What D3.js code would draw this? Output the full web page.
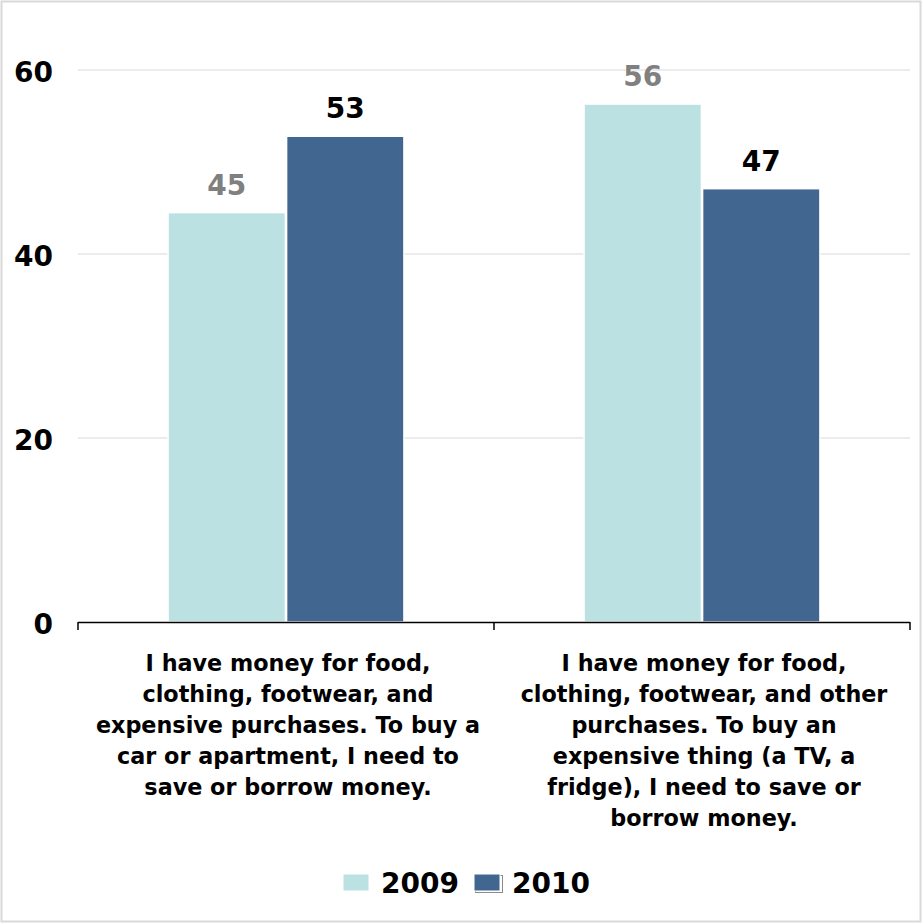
<!DOCTYPE html>
<html>
<head>
<meta charset="utf-8">
<script src="https://cdn.jsdelivr.net/npm/d3@7"></script>
<style>
  body { margin: 0; background: #fff; }
  text { font-family: "DejaVu Sans", Verdana, sans-serif; font-weight: bold; }
</style>
</head>
<body>
<script>
// chart data
var categories = [
  ["I have money for food,", "clothing, footwear, and", "expensive purchases. To buy a", "car or apartment, I need to", "save or borrow money."],
  ["I have money for food,", "clothing, footwear, and other", "purchases. To buy an", "expensive thing (a TV, a", "fridge), I need to save or", "borrow money."]
];
var seriesNames = ["2009", "2010"];
var values2009 = [44.5, 56.3];
var values2010 = [52.8, 47.1];
var yTicks = [0, 20, 40, 60];

var colors = { "2009": "#bce1e3", "2010": "#41668f" };
var labelColors = { "2009": "#808080", "2010": "#000000" };

var width = 922, height = 923;
var plotLeft = 78, plotRight = 910, plotTop = 70, plotBottom = 622;

var svg = d3.select("body").append("svg")
  .attr("width", width)
  .attr("height", height);

// outer frame
svg.append("rect")
  .attr("x", 1.5).attr("y", 1.5)
  .attr("width", width - 3).attr("height", height - 3)
  .attr("fill", "none")
  .attr("stroke", "#d9d9d9")
  .attr("stroke-width", 2);

var x0 = d3.scaleBand().domain(d3.range(categories.length)).range([plotLeft, plotRight]);
var x1 = d3.scaleBand().domain(seriesNames).range([0, x0.bandwidth()]).paddingOuter(0.76).paddingInner(0.01);
var y = d3.scaleLinear().domain([0, 60]).range([plotBottom, plotTop]);

// gridlines
svg.append("g").selectAll("line")
  .data(yTicks.filter(function(d) { return d > 0; }))
  .enter().append("line")
  .attr("x1", plotLeft).attr("x2", plotRight)
  .attr("y1", function(d) { return y(d); })
  .attr("y2", function(d) { return y(d); })
  .attr("stroke", "#d9d9d9")
  .attr("stroke-width", 1);

// y tick labels
svg.append("g").selectAll("text")
  .data(yTicks)
  .enter().append("text")
  .attr("x", 53)
  .attr("y", function(d) { return y(d) + 12; })
  .attr("text-anchor", "end")
  .attr("font-size", 28)
  .text(function(d) { return d; });

var rows = [];
categories.forEach(function(c, i) {
  rows.push({ cat: i, series: "2009", value: values2009[i] });
  rows.push({ cat: i, series: "2010", value: values2010[i] });
});

// bars
svg.append("g").selectAll("rect")
  .data(rows)
  .enter().append("rect")
  .attr("x", function(d) { return x0(d.cat) + x1(d.series); })
  .attr("y", function(d) { return y(d.value); })
  .attr("width", x1.bandwidth())
  .attr("height", function(d) { return plotBottom - y(d.value); })
  .attr("fill", function(d) { return colors[d.series]; })
  .attr("stroke", "#fff")
  .attr("stroke-width", 1.5);

// value labels
svg.append("g").selectAll("text")
  .data(rows)
  .enter().append("text")
  .attr("x", function(d) { return x0(d.cat) + x1(d.series) + x1.bandwidth() / 2; })
  .attr("y", function(d) { return y(d.value) - 18; })
  .attr("text-anchor", "middle")
  .attr("font-size", 28)
  .attr("fill", function(d) { return labelColors[d.series]; })
  .text(function(d) { return Math.round(d.value); });

// x axis
var axis = svg.append("g");
axis.append("line")
  .attr("x1", plotLeft).attr("x2", plotRight)
  .attr("y1", plotBottom + 0.5).attr("y2", plotBottom + 0.5)
  .attr("stroke", "#000").attr("stroke-width", 1.5);
axis.selectAll("line.tick")
  .data([plotLeft, x0(1), plotRight])
  .enter().append("line")
  .attr("class", "tick")
  .attr("x1", function(d) { return d; }).attr("x2", function(d) { return d; })
  .attr("y1", plotBottom).attr("y2", plotBottom + 8)
  .attr("stroke", "#000").attr("stroke-width", 1.5);

// category labels
categories.forEach(function(lines, i) {
  var t = svg.append("text")
    .attr("text-anchor", "middle")
    .attr("font-size", 22.3)
    .attr("y", 671);
  lines.forEach(function(s, j) {
    t.append("tspan")
      .attr("x", x0(i) + x0.bandwidth() / 2 + 2)
      .attr("dy", j === 0 ? 0 : 31)
      .text(s);
  });
});

// legend
var legend = svg.append("g").attr("transform", "translate(343,872)");
seriesNames.forEach(function(s, i) {
  var g = legend.append("g").attr("transform", "translate(" + (i * 131) + ",0)");
  if (s === "2010") {
    g.append("rect")
      .attr("x", 1.5).attr("y", 3.5)
      .attr("width", 27).attr("height", 17)
      .attr("fill", "none")
      .attr("stroke", "#8a8a8a").attr("stroke-width", 1);
  }
  g.append("rect")
    .attr("x", 0).attr("y", 2)
    .attr("width", 26).attr("height", 17)
    .attr("fill", colors[s])
    .attr("stroke", "#fff");
  g.append("text")
    .attr("x", 38).attr("y", 21)
    .attr("font-size", 28)
    .text(s);
});
</script>
</body>
</html>
